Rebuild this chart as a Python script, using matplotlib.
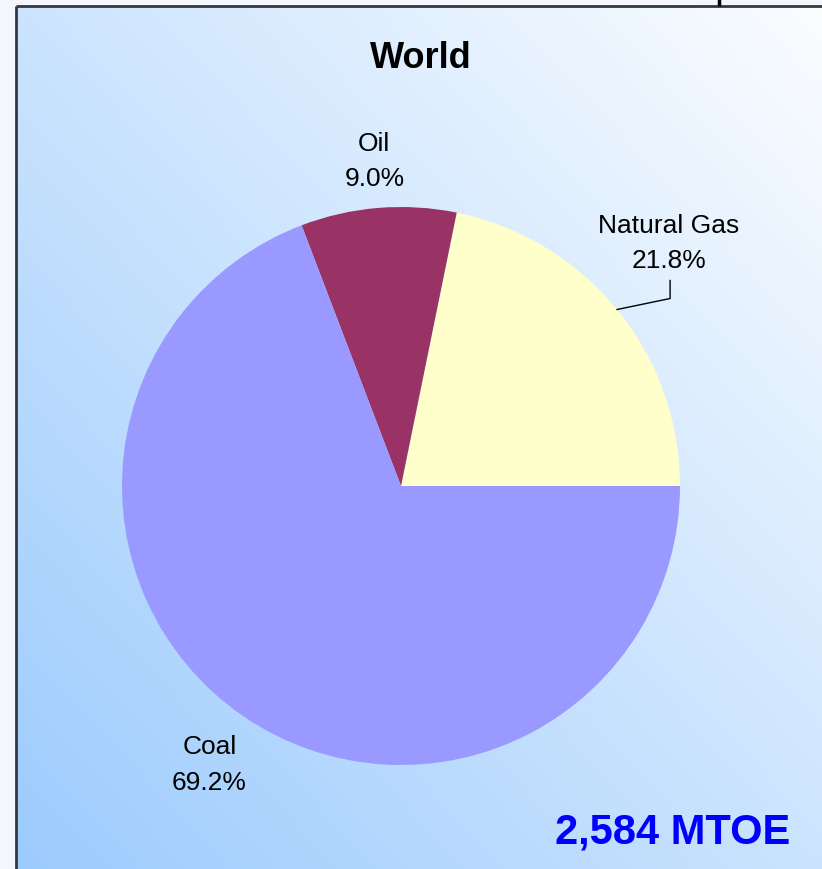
import numpy as np
import matplotlib
matplotlib.use("Agg")
import matplotlib.pyplot as plt

# data
labels = ["Natural Gas", "Oil", "Coal"]
shares = [21.8, 9.0, 69.2]
colors = ["#ffffcc", "#993366", "#9999ff"]
title = "World"
total_text = "2,584 MTOE"

W, H = 822, 870
fig = plt.figure(figsize=(W / 100, H / 100), dpi=100, facecolor="#f4f6fc")
ax = fig.add_axes([0, 0, 1, 1])
ax.set_xlim(0, W)
ax.set_ylim(0, H)
ax.axis("off")

# gradient panel: light blue bottom-left -> white top-right
x0, y0 = 17, 0
x1, y1 = W, H - 8
gx = np.linspace(0, 1, 200)
gy = np.linspace(0, 1, 200)
GX, GY = np.meshgrid(gx, gy)
t = (GX + GY) / 2  # 0 at bottom-left, 1 at top-right
c0 = np.array([156, 203, 253]) / 255
c1 = np.array([251, 253, 255]) / 255
img = c0 + (c1 - c0) * t[..., None]
ax.imshow(img, extent=[x0, x1, y0, y1], origin="lower", aspect="auto", zorder=0)

# frame lines
ax.plot([16, W], [H - 7, H - 7], color="#333840", lw=2, zorder=1, solid_capstyle="butt")
ax.plot([16, 16], [0, H - 7], color="#333840", lw=2, zorder=1, solid_capstyle="butt")
ax.plot([719, 719], [H - 7, H], color="black", lw=2.5, zorder=1, solid_capstyle="butt")

cx, cy, r = 401, H - 487, 279
wedges, _ = ax.pie(shares, colors=colors, startangle=0, counterclock=True,
                   center=(cx, cy), radius=r, frame=True,
                   wedgeprops=dict(linewidth=0))
for w in wedges:
    w.set_zorder(2)
ax.set_xlim(0, W)
ax.set_ylim(0, H)
ax.axis("off")

lab_font = dict(family="Liberation Sans", fontsize=19,
                color="black", ha="center", va="center", linespacing=1.6, zorder=3)

for w, lab, s in zip(wedges, labels, shares):
    mid = np.deg2rad((w.theta1 + w.theta2) / 2)
    txt = f"{lab}\n{s:.1f}%"
    if lab == "Natural Gas":
        ex, ey = cx + r * np.cos(mid), cy + r * np.sin(mid)
        lx, ly = ex + 53, ey + 11
        ax.plot([ex, lx, lx], [ey, ly, ly + 18], color="black", lw=1, zorder=3)
        ax.text(lx - 1, ly + 56, txt, **lab_font)
    else:
        d = 1.17 if lab == "Oil" else 1.21
        ax.text(cx + d * r * np.cos(mid), cy + d * r * np.sin(mid), txt, **lab_font)

ax.text(421, H - 58, title, fontsize=26, fontweight="bold", family="Liberation Sans",
        ha="center", va="center", zorder=3)
ax.text(673, H - 833, total_text, fontsize=30, fontweight="bold", family="Liberation Sans",
        color="#0000ff", ha="center", va="center", zorder=3)

fig.savefig("out.png", dpi=100, facecolor=fig.get_facecolor())
